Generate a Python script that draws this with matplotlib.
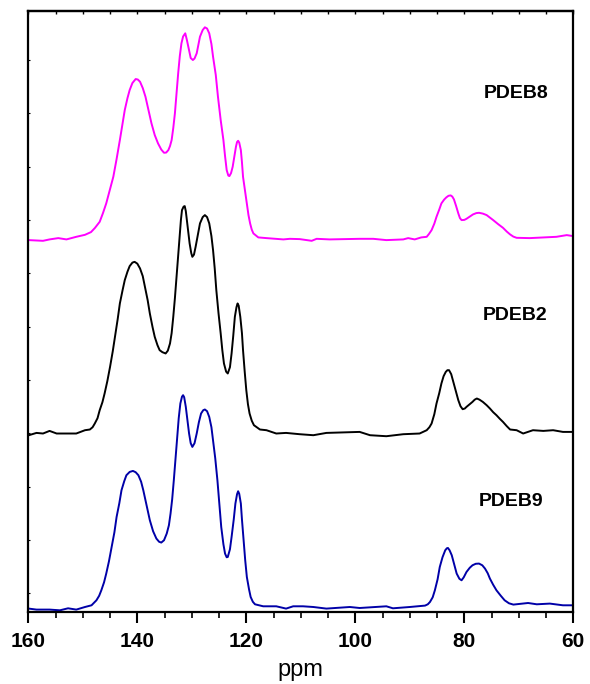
import numpy as np
import matplotlib
matplotlib.use("Agg")
import matplotlib.pyplot as plt

plt.rcParams['font.family'] = ['Liberation Sans', 'DejaVu Sans']

# spectra: (ppm, intensity above the trace's own baseline)
pdeb8 = [(159.9, 0), (157.3, -0.7), (156.1, 0.7), (154.5, 2), (153.0, 0.7), (151.2, 3.3),
         (149.6, 5.3), (148.5, 8), (147.8, 12), (146.9, 18.3), (146.3, 27), (145.7, 36.7),
         (145.1, 49), (144.4, 63.3), (143.8, 81), (143.2, 100), (142.7, 117), (142.3, 130),
         (141.8, 142), (141.4, 150), (140.9, 157), (140.3, 161), (139.9, 160.5), (139.5, 158.3),
         (139.0, 152), (138.5, 143.3), (138.0, 131), (137.4, 116.7), (136.8, 105), (136.2, 96.7),
         (135.6, 90.5), (135.1, 87.3), (134.7, 87.5), (134.3, 90), (134.0, 94), (133.7, 100),
         (133.4, 112), (133.1, 126.7), (132.8, 147), (132.5, 166.7), (132.2, 184), (131.9, 196.7),
         (131.6, 203.5), (131.2, 206.7), (130.9, 200), (130.5, 190), (130.2, 182), (129.8, 180),
         (129.5, 181.5), (129.1, 186.7), (128.8, 195), (128.5, 203.3), (128.0, 210), (127.6, 212.7),
         (127.2, 211.5), (126.8, 206.7), (126.4, 196), (126.1, 183.3), (125.6, 165), (125.2, 143.3),
         (124.7, 120), (124.2, 100), (123.9, 84), (123.6, 70), (123.3, 64.5), (123.1, 64),
         (122.8, 67), (122.5, 73.3), (122.2, 83), (121.9, 93.3), (121.7, 98), (121.5, 99.3),
         (121.3, 97.5), (121.0, 90), (120.8, 78), (120.6, 63.3), (120.2, 48), (119.9, 36.7),
         (119.6, 25), (119.3, 16.7), (119.0, 10.5), (118.7, 6.7), (117.8, 2.7), (116.3, 2),
         (113.2, 0.7), (112.0, 1.3), (110.2, 1), (108.0, -0.7), (107.1, 1.3), (104.7, 0.7),
         (99.2, 1.3), (96.7, 1.3), (94.3, 0), (91.2, 0.7), (90.3, 2), (89.1, 0.7),
         (87.9, 2.7), (86.9, 3.3), (86.5, 6), (86.0, 10), (85.5, 16.5), (85.1, 23.3),
         (84.6, 30.5), (84.2, 36.7), (83.7, 40.5), (83.3, 42.7), (82.9, 44.3), (82.5, 44.7),
         (82.2, 43.5), (81.9, 40.7), (81.5, 34), (81.1, 26.7), (80.8, 22), (80.5, 20),
         (80.0, 20.2), (79.6, 21.3), (79.0, 23.5), (78.4, 25.7), (77.8, 27), (77.3, 27.3),
         (76.6, 26.5), (75.9, 25), (75.3, 22.5), (74.7, 20), (73.8, 16), (72.9, 12.3),
         (72.2, 8.5), (71.6, 5.7), (71.0, 3.5), (70.4, 2.3), (68.0, 2), (65.5, 2.7),
         (63.1, 3.3), (61.2, 5), (60.0, 4)]

pdeb2 = [(159.9, -2), (158.5, 0.3), (157.3, -0.3), (156.1, 2.3), (154.8, -0.3), (153.0, -0.3),
         (151.2, -0.3), (149.6, 3), (148.7, 3.7), (148.2, 6), (147.8, 9.7), (147.3, 15),
         (146.9, 23), (146.4, 31), (146.0, 39.7), (145.5, 52), (145.0, 66.3), (144.5, 82),
         (144.1, 96.3), (143.6, 114), (143.2, 129.7), (142.7, 143), (142.3, 153), (141.8, 161.5),
         (141.4, 167), (140.9, 170.5), (140.5, 171.3), (140.0, 169.5), (139.5, 164.7), (139.0, 157),
         (138.6, 146.3), (138.1, 133), (137.7, 119.7), (137.2, 106), (136.8, 96.3), (136.3, 88),
         (135.9, 83), (135.4, 81), (134.8, 79.7), (134.4, 82.5), (134.0, 89.7), (133.7, 100),
         (133.4, 116.3), (133.1, 135), (132.8, 156.3), (132.5, 178), (132.2, 199.7), (132.0, 213),
         (131.8, 223), (131.5, 226.5), (131.3, 227), (131.1, 222), (130.9, 213), (130.6, 200),
         (130.4, 189.7), (130.1, 180), (129.9, 176.3), (129.6, 178.5), (129.3, 186.3), (128.9, 198),
         (128.5, 209.7), (128.0, 216), (127.6, 218), (127.2, 216), (126.8, 209.7), (126.4, 197),
         (126.1, 183), (125.8, 165), (125.5, 143), (125.1, 120), (124.7, 99.7), (124.4, 83),
         (124.1, 69.7), (123.7, 61.5), (123.4, 59.7), (123.0, 66), (122.7, 79.7), (122.4, 97),
         (122.1, 116.3), (121.8, 126), (121.6, 129.7), (121.4, 127.5), (121.1, 116.3), (120.8, 100),
         (120.6, 83), (120.3, 62), (120.0, 43), (119.7, 29), (119.4, 19.7), (119.0, 12.5),
         (118.6, 8), (117.5, 3.7), (116.3, 3), (114.5, -0.3), (112.7, 0.3), (110.2, -1),
         (107.7, -2), (105.3, 0.3), (99.2, 1.3), (97.3, -2), (94.3, -3), (91.2, -1),
         (88.2, -0.3), (86.9, 3), (86.4, 6), (86.0, 9.7), (85.5, 19), (85.1, 29.7),
         (84.6, 40), (84.2, 49.7), (83.8, 57), (83.4, 61.3), (83.1, 63), (82.8, 63),
         (82.4, 59), (82.1, 53), (81.6, 43), (81.1, 33), (80.7, 27), (80.3, 24),
         (79.9, 24.7), (79.6, 26.3), (79.0, 29), (78.5, 31.3), (78.1, 33.5), (77.7, 34.7),
         (77.2, 33.5), (76.6, 31.3), (75.9, 28), (75.3, 24.7), (74.7, 21), (74.1, 18),
         (73.5, 14.5), (72.9, 11.3), (72.2, 7), (71.6, 3.7), (70.4, 3), (69.2, -0.3),
         (67.4, 3), (65.5, 2.3), (63.7, 3), (61.9, 1.3), (60.0, 1.3)]

pdeb9 = [(159.9, -1.3), (158.5, -2.3), (156.1, -2.3), (154.2, -3), (152.7, -1), (151.2, -2.3),
         (149.6, 0.3), (148.4, 2), (147.5, 7), (147.0, 11.5), (146.6, 17), (146.1, 25),
         (145.7, 33.7), (145.2, 46), (144.7, 60.3), (144.2, 75), (143.8, 90.3), (143.3, 104),
         (142.9, 117), (142.4, 126), (142.0, 132), (141.4, 135.3), (140.8, 136.3), (140.3, 135),
         (139.8, 132), (139.3, 125.5), (138.9, 117), (138.3, 102), (137.7, 87), (137.1, 76),
         (136.5, 68.7), (136.0, 65.5), (135.6, 64.7), (135.1, 67), (134.6, 73.7), (134.2, 82),
         (133.9, 93.7), (133.6, 108), (133.3, 127), (133.0, 148), (132.7, 170.3), (132.4, 189),
         (132.1, 203.7), (131.8, 210.5), (131.6, 212), (131.4, 210), (131.1, 200.3), (130.8, 187),
         (130.5, 173.7), (130.2, 164), (129.9, 160.3), (129.5, 164), (129.1, 173.7), (128.7, 185),
         (128.3, 193.7), (127.9, 197), (127.6, 197.7), (127.2, 196), (126.8, 190.3), (126.4, 180),
         (126.1, 167), (125.7, 149), (125.3, 127), (124.9, 101), (124.6, 80.3), (124.2, 63),
         (123.9, 53.7), (123.6, 50), (123.4, 50.3), (123.0, 58), (122.7, 70.3), (122.3, 88),
         (122.0, 103.7), (121.7, 113), (121.5, 116), (121.3, 113.5), (121.0, 103.7), (120.8, 88),
         (120.5, 67), (120.2, 47), (119.9, 30.3), (119.5, 18), (119.2, 10.3), (118.8, 5.5),
         (118.4, 3), (116.9, 1), (114.5, 1), (112.7, -1.3), (111.4, 1), (109.6, 1),
         (107.7, 0.3), (105.3, -1.3), (101.0, 0.3), (99.2, -0.7), (94.3, 1), (93.1, -1),
         (90.0, 0.3), (87.2, 1.7), (86.7, 3), (86.3, 5.3), (85.8, 10), (85.4, 17),
         (84.9, 28), (84.5, 40.3), (84.0, 50), (83.5, 57), (83.2, 59), (83.0, 59.3),
         (82.7, 57), (82.3, 52), (81.8, 42), (81.4, 33.7), (80.9, 28.5), (80.5, 27),
         (80.1, 30), (79.6, 35.3), (79.0, 39.5), (78.5, 42), (77.9, 43.5), (77.3, 43.7),
         (76.7, 42), (76.2, 38.7), (75.7, 34), (75.3, 28.7), (74.7, 22.5), (74.1, 17),
         (73.3, 11.5), (72.6, 7), (71.8, 4), (71.0, 2.7), (68.3, 4.3), (66.7, 3),
         (64.3, 3.7), (61.9, 2), (60.0, 2)]

names = ['PDEB8', 'PDEB2', 'PDEB9']
offsets = [372, 179, 5]
colors = ['#FF00FF', '#000000', '#0000A8']
label_pos = [(70.4, 519), (70.6, 297), (71.5, 111)]

fig = plt.figure(figsize=(5.9, 6.84), dpi=100)
ax = fig.add_axes([28.3 / 590, 1 - 612.3 / 684, 545 / 590, 601.3 / 684])

for spec, off, c, name, (tx, ty) in zip([pdeb8, pdeb2, pdeb9], offsets, colors, names, label_pos):
    x, y = zip(*spec)
    ax.plot(x, np.array(y) + off, color=c, lw=1.4, solid_joinstyle='round')
    ax.text(tx, ty, name, fontsize=14, fontweight='bold', ha='center', va='center')

ax.set_xlim(160, 60)
ax.set_ylim(0, 601)
ax.set_xticks([160, 140, 120, 100, 80, 60])
ax.set_xticks(np.arange(60, 161, 5), minor=True)
ax.set_yticks([])
ax.set_yticks(np.arange(19, 560, 53.3), minor=True)
ax.tick_params(axis='x', which='major', direction='out', length=8, width=1.5,
               labelsize=15, pad=6, top=False)
ax.tick_params(axis='x', which='minor', direction='out', length=4, width=1.2, top=False)
for lab in ax.get_xticklabels():
    lab.set_fontweight('bold')
ax.tick_params(axis='y', which='minor', direction='in', length=1.5, width=0.8)
ax.set_xlabel('ppm', fontsize=17, labelpad=6)
for s in ax.spines.values():
    s.set_linewidth(1.6)

# small inward marks along the top frame
top = ax.secondary_xaxis('top')
top.set_xticks(np.arange(60, 161, 5))
top.set_xticklabels([])
top.tick_params(direction='in', length=2, width=1)
top.spines['top'].set_linewidth(1.6)

fig.savefig('out.png', dpi=100)
